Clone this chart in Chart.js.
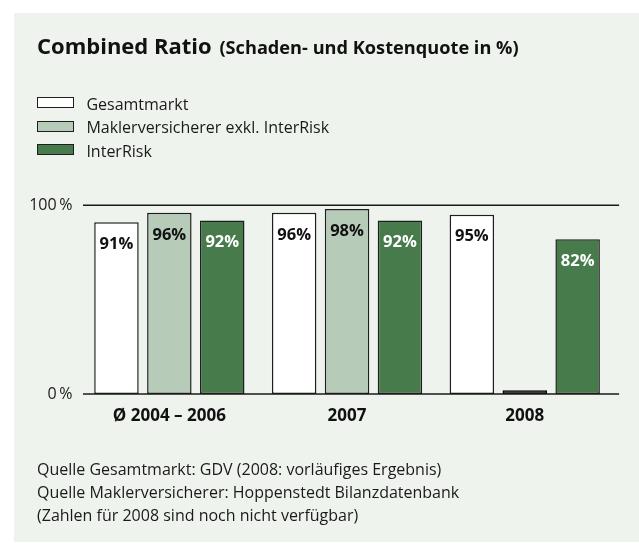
<!DOCTYPE html>
<html><head><meta charset="utf-8">
<script src="https://cdn.jsdelivr.net/npm/chart.js@4/dist/chart.umd.min.js"></script>
<style>
html,body{margin:0;padding:0;background:#fff;}
body{width:639px;height:543px;position:relative;overflow:hidden;font-family:'Open Sans',sans-serif;color:#1a1a1a;}
#panel{position:absolute;left:14px;top:13px;width:625px;height:529px;background:#eff3ee;}
#chart{position:absolute;left:0;top:0;}
#title{position:absolute;left:37px;top:34px;line-height:1;font-weight:700;font-size:22px;white-space:nowrap;color:#111;}
#title .sub{font-size:18.2px;margin-left:2px;}
#legend{position:absolute;left:37px;top:92.7px;}
.row{position:relative;height:23.5px;line-height:23.5px;font-size:16px;white-space:nowrap;}
.box{position:absolute;left:0;top:4.6px;width:37px;height:11px;box-sizing:border-box;border:1.5px solid #1e1e1e;}
.lbl{position:absolute;left:49.4px;top:0;}
#foot{position:absolute;left:37px;top:458.4px;line-height:22.7px;font-size:16px;white-space:nowrap;}
</style></head>
<body>
<div id="panel"></div>
<canvas id="chart" width="639" height="543"></canvas>
<div id="title">Combined Ratio <span class="sub">(Schaden- und Kostenquote in %)</span></div>
<div id="legend"></div>
<div id="foot">Quelle Gesamtmarkt: GDV (2008: vorläufiges Ergebnis)<br>Quelle Maklerversicherer: Hoppenstedt Bilanzdatenbank<br>(Zahlen für 2008 sind noch nicht verfügbar)</div>
<script>
const categories = ['Ø 2004 – 2006', '2007', '2008'];
const seriesNames = ['Gesamtmarkt', 'Maklerversicherer exkl. InterRisk', 'InterRisk'];
const gesamtmarkt = [91, 96, 95];
const makler = [96, 98, 2];
const maklerAvailable = [true, true, false];
const interrisk = [92, 92, 82];
const yTicks = [0, 100];

const fills = ['#ffffff', '#b6cbb8', '#487b4c'];
const labelColors = ['#111111', '#111111', '#ffffff'];
const edge = '#1e1e1e';
const missingFill = '#000000';

const decor = {
  id: 'decor',
  afterDatasetsDraw(chart) {
    const {ctx, chartArea, scales: {y}} = chart;
    ctx.save();
    ctx.strokeStyle = '#1a1a1a';
    ctx.lineWidth = 1.4;
    yTicks.forEach(v => {
      const py = y.getPixelForValue(v);
      ctx.beginPath();
      ctx.moveTo(chartArea.left + 2.5, py);
      ctx.lineTo(chartArea.right + 5.5, py);
      ctx.stroke();
    });
    ctx.font = '700 16.5px "Open Sans"';
    ctx.textAlign = 'center';
    ctx.textBaseline = 'middle';
    chart.data.datasets.forEach((ds, di) => {
      const meta = chart.getDatasetMeta(di);
      meta.data.forEach((bar, i) => {
        if (di === 1 && !maklerAvailable[i]) return;
        ctx.fillStyle = labelColors[di];
        ctx.fillText(ds.data[i] + '%', bar.x, bar.y + 22);
      });
    });
    ctx.restore();
  }
};

const common = {borderColor: edge, borderWidth: 1.5, borderSkipped: false};
const chart = new Chart(document.getElementById('chart'), {
  type: 'bar',
  data: {
    labels: categories,
    datasets: [
      Object.assign({label: seriesNames[0], data: gesamtmarkt, backgroundColor: fills[0]}, common),
      Object.assign({label: seriesNames[1], data: makler,
        backgroundColor: makler.map((v, i) => maklerAvailable[i] ? fills[1] : missingFill),
        borderColor: makler.map((v, i) => maklerAvailable[i] ? edge : missingFill)},
        {borderWidth: 1.5, borderSkipped: false}),
      Object.assign({label: seriesNames[2], data: interrisk, backgroundColor: fills[2]}, common)
    ]
  },
  options: {
    responsive: false,
    animation: false,
    devicePixelRatio: 1,
    categoryPercentage: 0.893,
    barPercentage: 0.841,
    layout: {padding: {top: 205.3, right: 25.4, left: 0, bottom: 0}},
    plugins: {legend: {display: false}, tooltip: {enabled: false}},
    scales: {
      x: {
        grid: {display: false, drawTicks: false},
        border: {display: false},
        ticks: {padding: 12, color: '#111', font: {family: '"Open Sans"', size: 17, weight: '700'}},
        afterFit: s => { s.height = 149; }
      },
      y: {
        min: 0, max: 100,
        afterBuildTicks: s => { s.ticks = yTicks.map(v => ({value: v})); },
        afterFit: s => { s.width = 80.5; },
        grid: {display: false, drawTicks: false},
        border: {display: false},
        ticks: {padding: 8, color: '#1a1a1a', font: {family: '"Open Sans"', size: 16},
          callback: v => v + '\u2009%'}
      }
    }
  },
  plugins: [decor]
});

const legend = document.getElementById('legend');
chart.data.datasets.forEach((ds, i) => {
  const row = document.createElement('div');
  row.className = 'row';
  const box = document.createElement('span');
  box.className = 'box';
  box.style.background = fills[i];
  const lbl = document.createElement('span');
  lbl.className = 'lbl';
  lbl.textContent = ds.label;
  row.appendChild(box);
  row.appendChild(lbl);
  legend.appendChild(row);
});
</script>
</body></html>
